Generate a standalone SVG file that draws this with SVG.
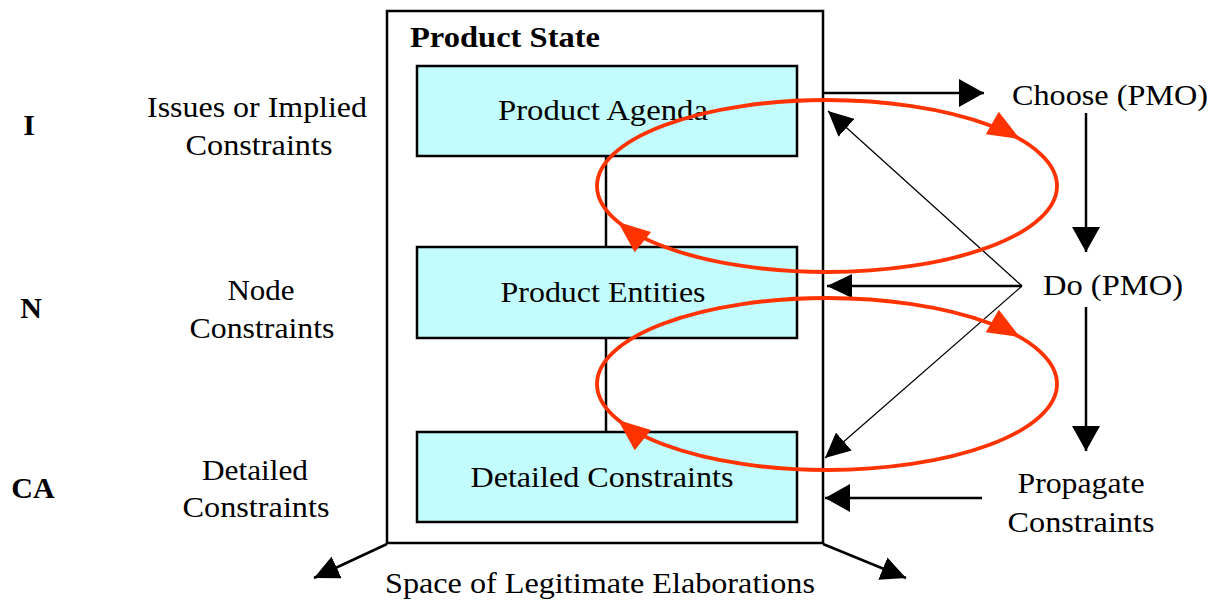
<svg xmlns="http://www.w3.org/2000/svg" xmlns:xlink="http://www.w3.org/1999/xlink" width="1213" height="601" viewBox="0 0 1213 601">
<style>
text{font-family:"Liberation Serif","Times New Roman",serif;font-size:30px;fill:#000}
.b{font-weight:bold}
.m{text-anchor:middle}
.box{fill:#C2FCFC;stroke:#000;stroke-width:2.5}
.outer{fill:#fff;stroke:#000;stroke-width:2.5}
.ln{stroke:#000;stroke-width:2.5;fill:none}
.thin{stroke:#000;stroke-width:1.3;fill:none}
.red{stroke:#FF3300;stroke-width:3.8;fill:none}
</style>
<defs>
<marker id="ah" viewBox="0 0 25 28" refX="25" refY="14" markerWidth="25" markerHeight="28" markerUnits="userSpaceOnUse" orient="auto">
<path d="M0,0 L25,14 L0,28 z" fill="#000"/>
</marker>
<marker id="ahs" viewBox="0 0 25 24" refX="25" refY="12" markerWidth="25" markerHeight="24" markerUnits="userSpaceOnUse" orient="auto">
<path d="M0,0 L25,12 L0,24 z" fill="#000"/>
</marker>
<path id="rh" d="M0,0 L-32,-13 L-32,13 z" fill="#FF3300"/>
</defs>
<rect width="1213" height="601" fill="#fff"/>

<g id="product-state">
<rect class="outer" x="387" y="11" width="436" height="532"/>
<text class="b" x="410" y="47" font-size="31" textLength="190" lengthAdjust="spacingAndGlyphs">Product State</text>
</g>
<g id="product-agenda">
<rect class="box" x="417" y="66" width="380" height="90"/>
<text class="m" x="603" y="120" textLength="210" lengthAdjust="spacingAndGlyphs">Product Agenda</text>
</g>
<g id="product-entities">
<rect class="box" x="417" y="247" width="380" height="91"/>
<text class="m" x="603" y="302" textLength="205" lengthAdjust="spacingAndGlyphs">Product Entities</text>
</g>
<g id="detailed-constraints">
<rect class="box" x="417" y="432" width="380" height="90"/>
<text class="m" x="602" y="487" textLength="263" lengthAdjust="spacingAndGlyphs">Detailed Constraints</text>
</g>

<g id="level-I">
<text class="b m" x="29" y="135" font-size="31">I</text>
<text class="m" x="257" y="117" textLength="220" lengthAdjust="spacingAndGlyphs">Issues or Implied</text>
<text class="m" x="259" y="155" textLength="147" lengthAdjust="spacingAndGlyphs">Constraints</text>
</g>
<g id="level-N">
<text class="b m" x="31" y="318" font-size="31">N</text>
<text class="m" x="261" y="300" textLength="67" lengthAdjust="spacingAndGlyphs">Node</text>
<text class="m" x="262" y="338" textLength="145" lengthAdjust="spacingAndGlyphs">Constraints</text>
</g>
<g id="level-CA">
<text class="b m" x="33" y="498" font-size="31">CA</text>
<text class="m" x="255" y="480" textLength="106" lengthAdjust="spacingAndGlyphs">Detailed</text>
<text class="m" x="256" y="517" textLength="147" lengthAdjust="spacingAndGlyphs">Constraints</text>
</g>

<g id="choose">
<text x="1012" y="105" textLength="196" lengthAdjust="spacingAndGlyphs">Choose (PMO)</text>
</g>
<g id="do">
<text x="1043" y="295" textLength="140" lengthAdjust="spacingAndGlyphs">Do (PMO)</text>
</g>
<g id="propagate">
<text class="m" x="1081" y="493" textLength="127" lengthAdjust="spacingAndGlyphs">Propagate</text>
<text class="m" x="1081" y="532" textLength="147" lengthAdjust="spacingAndGlyphs">Constraints</text>
</g>
<g id="space-label">
<text x="385" y="593" textLength="430" lengthAdjust="spacingAndGlyphs">Space of Legitimate Elaborations</text>
</g>

<g id="connectors">
<line class="ln" x1="606" y1="156" x2="606" y2="247"/>
<line class="ln" x1="606" y1="338" x2="606" y2="432"/>
<line class="ln" x1="823" y1="93" x2="984" y2="93" marker-end="url(#ah)"/>
<line class="ln" x1="1086" y1="113" x2="1086" y2="252" marker-end="url(#ah)"/>
<line class="ln" x1="1086" y1="307" x2="1086" y2="451" marker-end="url(#ah)"/>
<line class="ln" x1="1022" y1="286" x2="827" y2="286" marker-end="url(#ahs)"/>
<line class="thin" x1="1022" y1="286" x2="828" y2="111" marker-end="url(#ahs)"/>
<line class="thin" x1="1022" y1="286" x2="825" y2="458" marker-end="url(#ahs)"/>
<line class="ln" x1="982" y1="498" x2="825" y2="498" marker-end="url(#ah)"/>
<line class="ln" x1="387" y1="544" x2="314" y2="578" marker-end="url(#ahs)"/>
<line class="ln" x1="823" y1="544" x2="906" y2="578" marker-end="url(#ahs)"/>
<ellipse class="red" cx="827" cy="186" rx="230" ry="86"/>
<use xlink:href="#rh" href="#rh" transform="translate(1020,139) rotate(30)"/>
<use xlink:href="#rh" href="#rh" transform="translate(618,222) rotate(219)"/>
<ellipse class="red" cx="827" cy="384" rx="230" ry="86"/>
<use xlink:href="#rh" href="#rh" transform="translate(1020,337) rotate(30)"/>
<use xlink:href="#rh" href="#rh" transform="translate(618,420) rotate(219)"/>
</g>
</svg>
